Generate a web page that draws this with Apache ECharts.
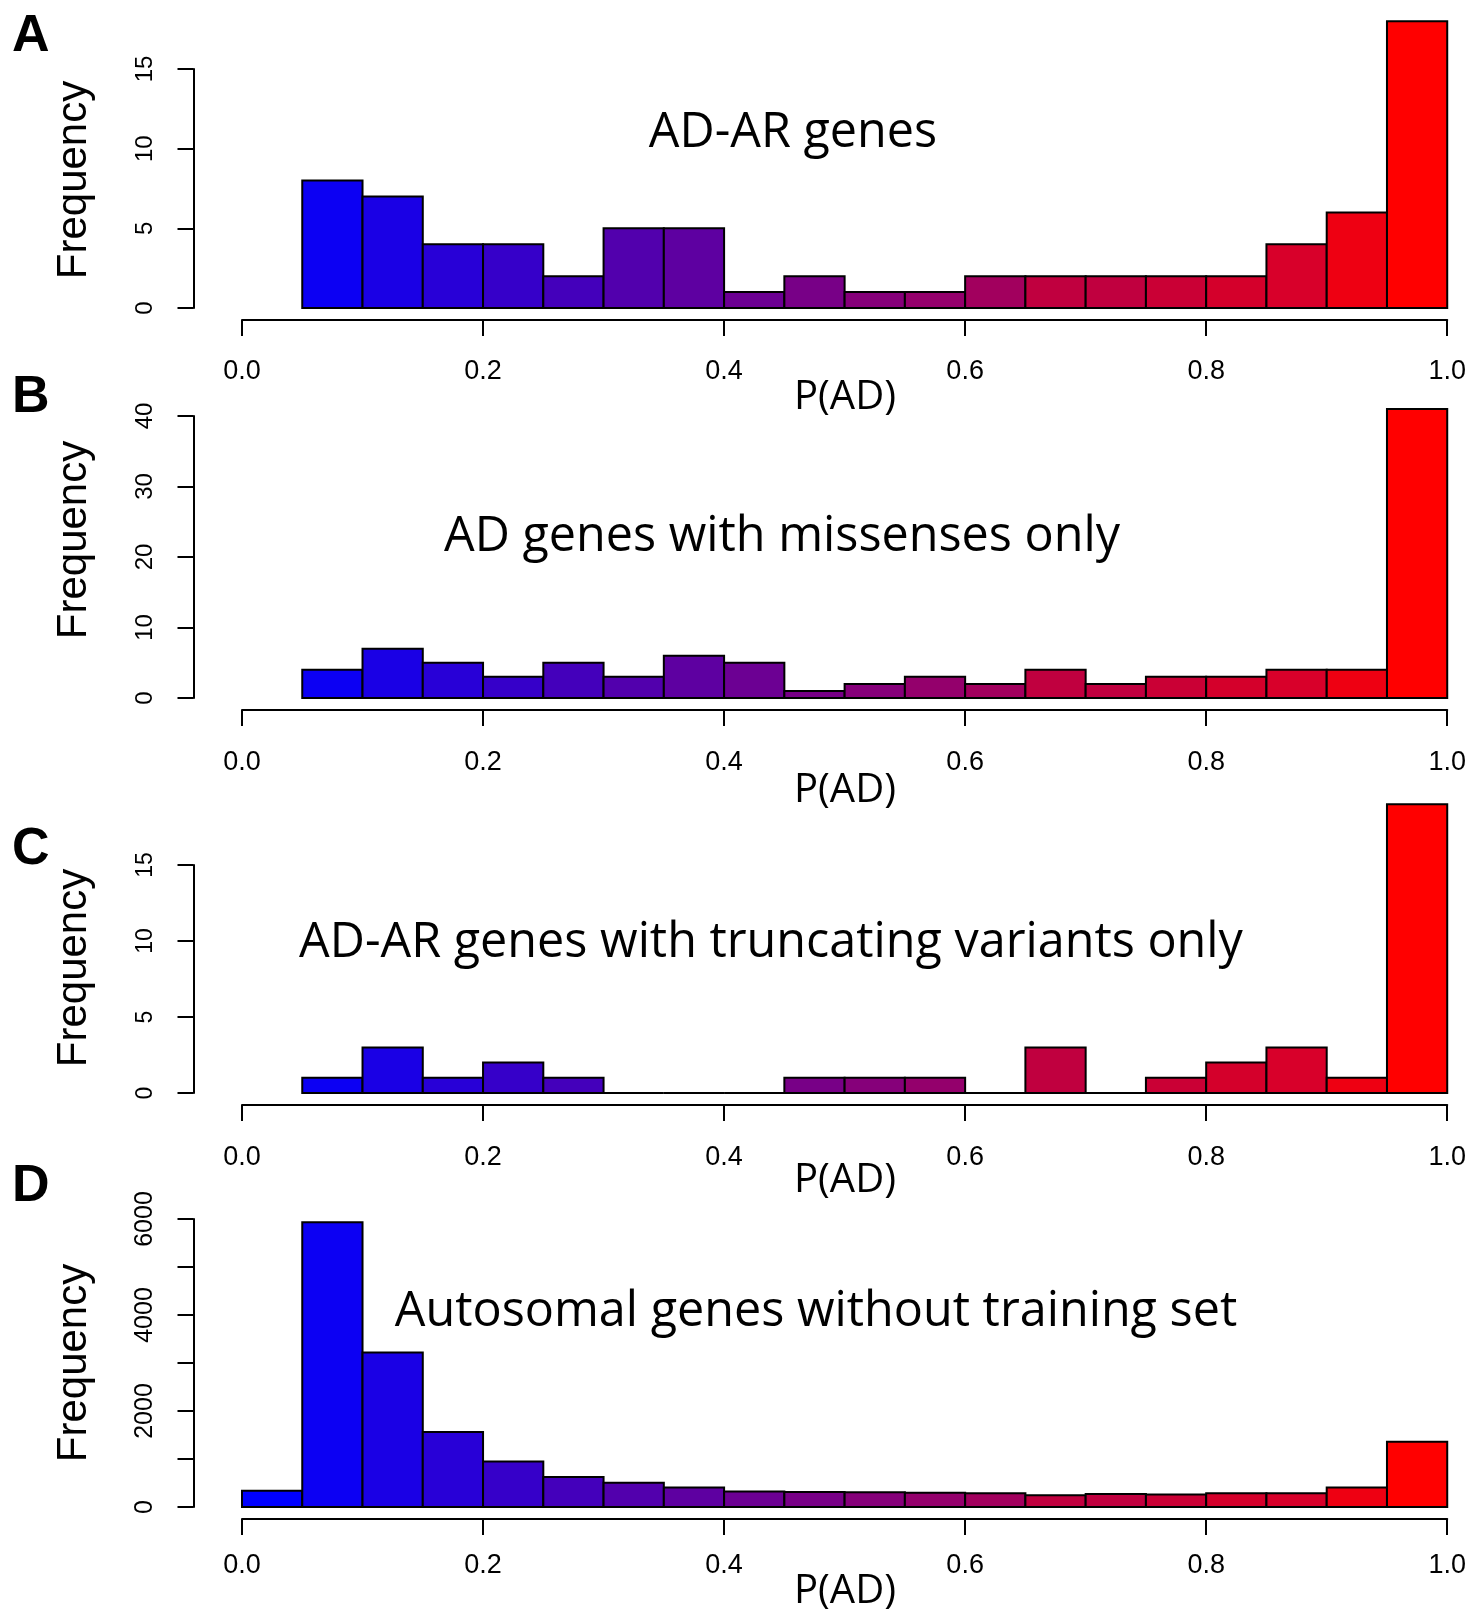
<!DOCTYPE html>
<html>
<head>
<meta charset="utf-8">
<script src="https://cdn.jsdelivr.net/npm/echarts@6/dist/echarts.min.js"></script>
<style>
  html, body { margin: 0; padding: 0; background: #fff; }
  #main { width: 1469px; height: 1609px; }
</style>
</head>
<body>
<div id="main"></div>
<script>
// bin start points, width 0.05
var binStarts = [0, 0.05, 0.1, 0.15, 0.2, 0.25, 0.3, 0.35, 0.4, 0.45, 0.5, 0.55, 0.6, 0.65, 0.7, 0.75, 0.8, 0.85, 0.9, 0.95]
var binWidth = 0.05
var binColors = ['#0000ff', '#0c00f3', '#1a00e5', '#2800d7', '#3600c9', '#4400bb', '#5200ad', '#5e00a1', '#6c0093', '#780087',
  '#86007a', '#94006c', '#a2005e', '#c0003f', '#c0003f', '#ca0035', '#d4002b', '#d8002a', '#ee0012', '#ff0000']

// frequencies per bin (null = no bar)
var countsA = [null, 8, 7, 4, 4, 2, 5, 5, 1, 2, 1, 1, 2, 2, 2, 2, 2, 4, 6, 18]
var countsB = [null, 4, 7, 5, 3, 5, 3, 6, 5, 1, 2, 3, 2, 4, 2, 3, 3, 4, 4, 41]
var countsC = [null, 1, 3, 1, 2, 1, 0, 0, 0, 1, 1, 1, 0, 3, 0, 1, 2, 3, 1, 19]
var countsD = [340, 5930, 3220, 1560, 950, 625, 505, 405, 325, 310, 305, 295, 285, 245, 270, 260, 285, 285, 405, 1360]

var titles = ['AD-AR genes', 'AD genes with missenses only', 'AD-AR genes with truncating variants only', 'Autosomal genes without training set']
var letters = ['A', 'B', 'C', 'D']
var yMax = [15, 40, 15, 6000]
var yStep = [5, 10, 5, 1000]

// layout of the four panels
var gridTop = [69, 416, 865, 1219]
var gridBottom = [308, 698, 1093, 1507]
var yLabelSize = [24, 24, 23, 25]
var xLabelMargin = [38, 39, 39, 33]
var titleX = [793, 782, 771, 816]
var titleY = [133, 537, 943, 1312]
var letterY = [37, 398, 850, 1187]
var freqY = [180, 540, 968, 1363]
var xNameY = [398, 791, 1181, 1592]

var allCounts = [countsA, countsB, countsC, countsD]

var chartDom = document.getElementById('main')
var myChart = echarts.init(chartDom, null, { renderer: 'canvas' })

var grids = []
var xAxes = []
var yAxes = []
var series = []
var graphics = []

for (var i = 0; i < 4; i++) {
  grids.push({ left: 242, width: 1205.5, top: gridTop[i], height: gridBottom[i] - gridTop[i] })
  xAxes.push({
    type: 'value', gridIndex: i, min: 0, max: 1, interval: 0.2, offset: 12,
    splitLine: { show: false },
    axisLine: { show: true, onZero: false, lineStyle: { color: '#000', width: 2 } },
    axisTick: { show: true, length: 16, lineStyle: { color: '#000', width: 2 } },
    axisLabel: {
      margin: xLabelMargin[i], color: '#000', fontSize: 27, fontFamily: 'Liberation Sans',
      formatter: function (v) { return v.toFixed(1) },
      showMinLabel: true, showMaxLabel: true
    }
  })
  yAxes.push({
    type: 'value', gridIndex: i, min: 0, max: yMax[i], interval: yStep[i], offset: 48.5,
    splitLine: { show: false },
    axisLine: { show: true, onZero: false, lineStyle: { color: '#000', width: 2 } },
    axisTick: { show: true, length: 16, lineStyle: { color: '#000', width: 2 } },
    axisLabel: {
      rotate: 90, margin: 36, color: '#000', fontSize: yLabelSize[i], fontFamily: 'Liberation Sans',
      formatter: i === 3 ? function (v) { return v % 2000 === 0 ? String(v) : '' } : function (v) { return String(v) }
    }
  })
  var data = []
  allCounts[i].forEach(function (c, k) {
    if (c === null) return
    data.push([binStarts[k], binStarts[k] + binWidth, c, k])
  })
  series.push({
    type: 'custom', xAxisIndex: i, yAxisIndex: i, clip: false,
    encode: { x: [0, 1], y: 2 },
    data: data,
    renderItem: function (params, api) {
      var p0 = api.coord([api.value(0), api.value(2)])
      var p1 = api.coord([api.value(1), 0])
      return {
        type: 'rect',
        shape: { x: p0[0], y: p0[1], width: p1[0] - p0[0], height: p1[1] - p0[1] },
        style: { fill: binColors[api.value(3)], stroke: '#000', lineWidth: 2 }
      }
    }
  })
  graphics.push({
    type: 'text', x: 12, y: letterY[i],
    style: { text: letters[i], fontSize: 52, fontWeight: 'bold', fontFamily: 'Liberation Sans', fill: '#000', align: 'left', verticalAlign: 'middle' }
  })
  graphics.push({
    type: 'text', x: titleX[i], y: titleY[i],
    style: { text: titles[i], fontSize: 48.5, fontFamily: 'Open Sans', fill: '#000', align: 'center', verticalAlign: 'middle' }
  })
  graphics.push({
    type: 'text', x: 74, y: freqY[i], rotation: Math.PI / 2,
    style: { text: 'Frequency', fontSize: 42, fontFamily: 'Liberation Sans', fill: '#000', align: 'center', verticalAlign: 'middle' }
  })
  graphics.push({
    type: 'text', x: 845, y: xNameY[i],
    style: { text: 'P(AD)', fontSize: 40, fontFamily: 'Open Sans', fill: '#000', align: 'center', verticalAlign: 'middle' }
  })
}

var option = {
  backgroundColor: '#fff',
  animation: false,
  grid: grids,
  xAxis: xAxes,
  yAxis: yAxes,
  series: series,
  graphic: graphics
}
option && myChart.setOption(option)
</script>
</body>
</html>
